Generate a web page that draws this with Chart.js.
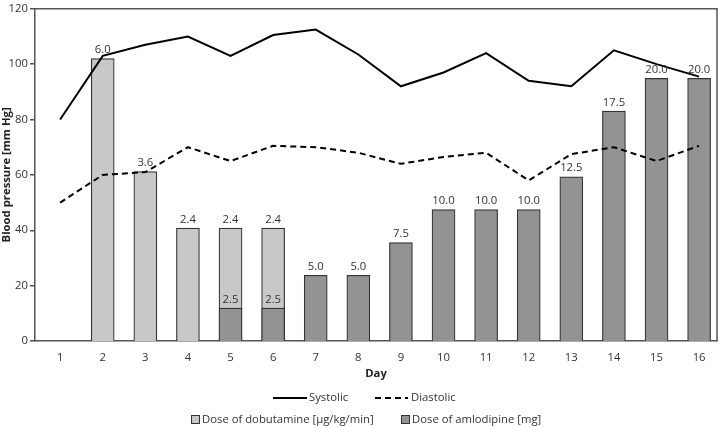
<!DOCTYPE html>
<html>
<head>
<meta charset="utf-8">
<script src="https://cdn.jsdelivr.net/npm/chart.js@4"></script>
<style>
  html, body { margin: 0; padding: 0; background: #fff; }
  #wrap { width: 720px; height: 427px; position: relative; }
</style>
</head>
<body>
<div id="wrap"><canvas id="chart"></canvas></div>
<script>
const days = [1, 2, 3, 4, 5, 6, 7, 8, 9, 10, 11, 12, 13, 14, 15, 16];
const systolic = [80, 103, 107, 110, 103, 110.5, 112.5, 103.5, 92, 97, 104, 94, 92, 105, 100, 95.5];
const diastolic = [50, 60, 61, 70, 65, 70.5, 70, 68, 64, 66.5, 68, 58, 67.5, 70, 65, 70.5];
const dobutamine = [null, 6.0, 3.6, 2.4, 2.4, 2.4, null, null, null, null, null, null, null, null, null, null];
const amlodipine = [null, null, null, null, 2.5, 2.5, 5.0, 5.0, 7.5, 10.0, 10.0, 10.0, 12.5, 17.5, 20.0, 20.0];
const yTicks = [0, 20, 40, 60, 80, 100, 120];

const FONT = "'Open Sans', 'Noto Sans', sans-serif";
const FS = 11.3;
const TXT = '#333';

function pts(arr) {
    return days.map((d, i) => ({ x: d, y: arr[i] }));
}

// box around the plot area
const frame = {
    id: 'frame',
    afterDatasetsDraw(chart) {
        const { ctx, chartArea: a } = chart;
        ctx.save();
        ctx.strokeStyle = '#555';
        ctx.lineWidth = 1.5;
        ctx.beginPath();
        ctx.moveTo(a.left, a.top);
        ctx.lineTo(a.right, a.top);
        ctx.lineTo(a.right, a.bottom);
        ctx.stroke();
        ctx.restore();
    }
};

// dose values above each bar
const barLabels = {
    id: 'barLabels',
    afterDatasetsDraw(chart) {
        const ctx = chart.ctx;
        ctx.save();
        ctx.font = FS + 'px ' + FONT;
        ctx.fillStyle = TXT;
        ctx.textAlign = 'center';
        ctx.textBaseline = 'bottom';
        chart.data.datasets.forEach((ds, di) => {
            if (ds.type !== 'bar') return;
            chart.getDatasetMeta(di).data.forEach((el, i) => {
                const v = ds.data[i].y;
                if (v == null) return;
                ctx.fillText(v.toFixed(1), el.x, el.y - 3);
            });
        });
        ctx.restore();
    }
};

// two-row legend like the original
const legend2 = {
    id: 'legend2',
    afterDraw(chart) {
        const ctx = chart.ctx;
        ctx.save();
        ctx.font = FS + 'px ' + FONT;
        ctx.fillStyle = TXT;
        ctx.textBaseline = 'middle';
        ctx.strokeStyle = '#000';
        ctx.lineWidth = 2;
        // row 1
        let y = 398;
        ctx.beginPath(); ctx.moveTo(273, y); ctx.lineTo(307, y); ctx.stroke();
        ctx.fillText('Systolic', 309, y);
        ctx.setLineDash([6, 4]);
        ctx.beginPath(); ctx.moveTo(375, y); ctx.lineTo(408, y); ctx.stroke();
        ctx.setLineDash([]);
        ctx.fillText('Diastolic', 411, y);
        // row 2
        y = 420;
        ctx.lineWidth = 1;
        ctx.strokeStyle = '#333';
        ctx.fillStyle = '#c8c8c8';
        ctx.fillRect(191.5, y - 4.5, 8, 8); ctx.strokeRect(191.5, y - 4.5, 8, 8);
        ctx.fillStyle = '#939393';
        ctx.fillRect(401.5, y - 4.5, 8, 8); ctx.strokeRect(401.5, y - 4.5, 8, 8);
        ctx.fillStyle = TXT;
        ctx.fillText('Dose of dobutamine [µg/kg/min]', 202, y);
        ctx.fillText('Dose of amlodipine [mg]', 412, y);
        ctx.restore();
    }
};

new Chart(document.getElementById('chart'), {
    data: {
        datasets: [
            {
                type: 'line', label: 'Systolic', data: pts(systolic),
                borderColor: '#000', borderWidth: 2, pointRadius: 0,
                tension: 0, order: 0, yAxisID: 'y'
            },
            {
                type: 'line', label: 'Diastolic', data: pts(diastolic),
                borderColor: '#000', borderWidth: 2, borderDash: [6, 4], pointRadius: 0,
                tension: 0, order: 0, yAxisID: 'y'
            },
            {
                type: 'bar', label: 'Dose of amlodipine [mg]', data: pts(amlodipine),
                backgroundColor: '#939393', borderColor: '#333', borderWidth: 1.2,
                barThickness: 23, grouped: false, order: 1, yAxisID: 'yA'
            },
            {
                type: 'bar', label: 'Dose of dobutamine [µg/kg/min]', data: pts(dobutamine),
                backgroundColor: '#c8c8c8', borderColor: '#333', borderWidth: 1.2,
                barThickness: 23, grouped: false, order: 2, yAxisID: 'yD'
            }
        ]
    },
    options: {
        responsive: true,
        maintainAspectRatio: false,
        animation: false,
        layout: { padding: { top: 5, right: 3, bottom: 42, left: 0 } },
        plugins: {
            legend: { display: false },
            tooltip: { enabled: false }
        },
        scales: {
            x: {
                type: 'linear',
                offset: false,
                min: 0.41,
                max: 16.42,
                grid: { display: false },
                border: { color: '#555', width: 1.5 },
                ticks: {
                    stepSize: 1,
                    includeBounds: false,
                    autoSkip: false,
                    maxRotation: 0,
                    padding: 2,
                    color: TXT,
                    font: { family: FONT, size: FS },
                    callback: v => Number.isInteger(v) ? String(v) : ''
                },
                title: {
                    display: true, text: 'Day', color: '#222',
                    font: { family: FONT, size: FS, weight: 'bold' },
                    padding: { top: 2, bottom: 4 }
                },
                afterFit: s => { s.height = 44; }
            },
            y: {
                min: 0,
                max: 120,
                afterBuildTicks: s => { s.ticks = yTicks.map(v => ({ value: v })); },
                grid: { drawOnChartArea: false, tickLength: 5, color: '#555', lineWidth: 1.5 },
                border: { color: '#555', width: 1.5 },
                ticks: { color: TXT, padding: 2, font: { family: FONT, size: FS } },
                title: {
                    display: true, text: 'Blood pressure [mm Hg]', color: '#222',
                    font: { family: FONT, size: FS, weight: 'bold' },
                    padding: { top: 0, bottom: 0 }
                },
                afterFit: s => { s.width = 35; }
            },
            yD: { display: false, min: 0, max: 7.06 },
            yA: { display: false, min: 0, max: 25.3 }
        }
    },
    plugins: [frame, barLabels, legend2]
});
</script>
</body>
</html>
